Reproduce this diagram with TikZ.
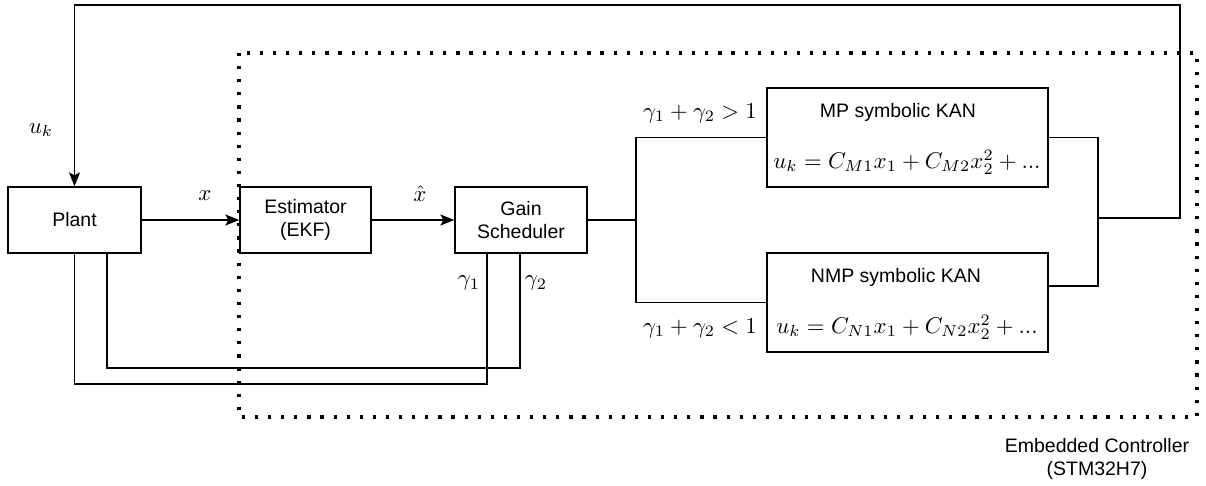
\documentclass[tikz,border=0pt]{standalone}
\usepackage{fontspec}
\setmainfont{Liberation Sans}
\usetikzlibrary{arrows.meta,calc}
\begin{document}
\begin{tikzpicture}[x=1pt,y=-1pt,
  blk/.style={draw,line width=1.3pt,inner sep=0pt,fill=white},
  wire/.style={line width=1.3pt},
  arr/.style={wire,-{Stealth[length=14pt,width=11pt,inset=3pt]}},
  lbl/.style={font=\fontsize{10}{11.8}\selectfont,scale=1.95,inner sep=0pt,align=center},
  mth/.style={font=\fontsize{10}{11.8}\selectfont,scale=2.28,inner sep=0pt},
  encl/.style={line width=3.2pt,dash pattern=on 3.2pt off 9.9pt,line cap=butt}]
\useasboundingbox (0,0) rectangle (1206,486);
% enclosure
\draw[encl] (239,53) rectangle (1197,417);
% blocks
\node[blk,minimum width=133pt,minimum height=66pt] (plant) at (74.5,220) {};
\node[blk,minimum width=131pt,minimum height=66pt] (est) at (305.5,220) {};
\node[blk,minimum width=132pt,minimum height=66pt] (gs) at (521,220) {};
\node[blk,minimum width=281pt,minimum height=99pt] (mp) at (907.5,137.5) {};
\node[blk,minimum width=281pt,minimum height=99pt] (nmp) at (907.5,302.5) {};
% block texts
\node[lbl] (plantt) at (plant.center) {Plant};
\node[lbl] (estt) at (est.center) {Estimator\\(EKF)};
\node[lbl] (gst) at (gs.center) {Gain\\Scheduler};
\node[lbl] (mpt) at (898,112) {MP symbolic KAN};
\node[mth] (mpf) at (907,162) {$u_k=C_{M1}x_1+C_{M2}x_2^2+...$};
\node[lbl] (nmpt) at (896,277) {NMP symbolic KAN};
\node[mth] (nmpf) at (907,327) {$u_k=C_{N1}x_1+C_{N2}x_2^2+...$};
% coordinates
\coordinate (b) at (636,220);
\coordinate (j) at (1098,218);
\coordinate (no) at (1048,286);
\coordinate (rj) at (1180,218);
\coordinate (rt) at (1180,5);
\coordinate (lt) at (74.5,5);
\coordinate (g1) at (487,253);
\coordinate (g2) at (520,253);
\coordinate (p2) at (107,253);
% connectors
\draw[arr] (plant.east) -- (est.west);
\draw[arr] (est.east) -- (gs.west);
\draw[wire] (gs.east) -- (b);
\draw[wire] (mp.west) -| (b) |- (nmp.west);
\draw[wire] (mp.east) -| (j);
\draw[wire] (no) -| (j);
\draw[arr] (j) -- (rj) -- (rt) -- (lt) -- (plant.north);
\draw[wire] (plant.south) -- (74.5,384) -| (g1);
\draw[wire] (p2) -- (107,368) -| (g2);
% labels
\node[mth] (luk) at (41,130) {$u_k$};
\node[mth] (lx) at (205,196) {$x$};
\node[mth] (lxh) at (420,194) {$\hat{x}$};
\node[mth] (lg1) at (469,283) {$\gamma_1$};
\node[mth] (lg2) at (536,283) {$\gamma_2$};
\node[mth] (lc1) at (700,113) {$\gamma_1+\gamma_2>1$};
\node[mth] (lc2) at (700,328) {$\gamma_1+\gamma_2<1$};
\node[lbl] (emb) at (1097,459) {Embedded Controller\\(STM32H7)};
\end{tikzpicture}
\end{document}
